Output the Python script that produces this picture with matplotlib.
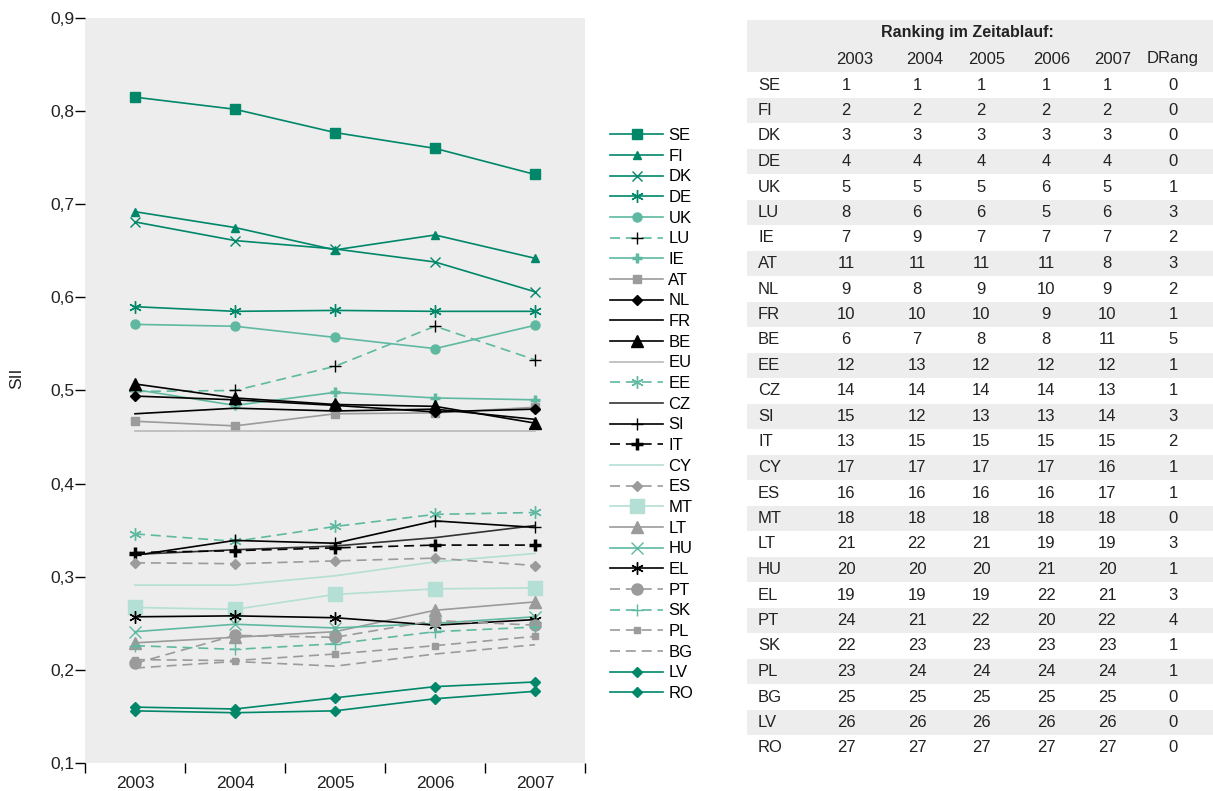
import numpy as np
import matplotlib.pyplot as plt
from matplotlib.patches import Rectangle

plt.rcParams['font.family'] = ['Liberation Sans', 'DejaVu Sans']

years = [2003, 2004, 2005, 2006, 2007]

# SII-Werte je Land
se = [0.815, 0.802, 0.777, 0.760, 0.732]
fi = [0.692, 0.675, 0.651, 0.667, 0.642]
dk = [0.681, 0.661, 0.652, 0.638, 0.606]
de = [0.590, 0.585, 0.586, 0.585, 0.585]
uk = [0.571, 0.569, 0.557, 0.545, 0.570]
lu = [0.499, 0.500, 0.526, 0.569, 0.533]
ie = [0.501, 0.484, 0.498, 0.492, 0.490]
at = [0.467, 0.462, 0.475, 0.476, 0.482]
nl = [0.494, 0.490, 0.484, 0.477, 0.480]
fr = [0.475, 0.481, 0.478, 0.480, 0.469]
be = [0.507, 0.492, 0.485, 0.483, 0.465]
eu = [0.456, 0.456, 0.456, 0.456, 0.456]
ee = [0.346, 0.338, 0.354, 0.367, 0.369]
cz = [0.324, 0.329, 0.333, 0.342, 0.355]
si = [0.323, 0.339, 0.336, 0.360, 0.353]
it = [0.326, 0.328, 0.331, 0.334, 0.334]
cy = [0.291, 0.291, 0.301, 0.316, 0.325]
es = [0.315, 0.314, 0.317, 0.320, 0.312]
mt = [0.267, 0.265, 0.281, 0.287, 0.288]
lt = [0.229, 0.235, 0.241, 0.264, 0.273]
hu = [0.241, 0.249, 0.245, 0.250, 0.257]
el = [0.257, 0.258, 0.256, 0.248, 0.254]
pt = [0.207, 0.237, 0.235, 0.253, 0.248]
sk = [0.226, 0.222, 0.228, 0.241, 0.246]
pl = [0.211, 0.210, 0.217, 0.226, 0.236]
bg = [0.202, 0.209, 0.204, 0.217, 0.227]
lv = [0.160, 0.158, 0.170, 0.182, 0.187]
ro = [0.156, 0.154, 0.156, 0.169, 0.177]

legend_labels = ['SE', 'FI', 'DK', 'DE', 'UK', 'LU', 'IE', 'AT', 'NL', 'FR', 'BE', 'EU', 'EE', 'CZ',
                 'SI', 'IT', 'CY', 'ES', 'MT', 'LT', 'HU', 'EL', 'PT', 'SK', 'PL', 'BG', 'LV', 'RO']
series = [se, fi, dk, de, uk, lu, ie, at, nl, fr, be, eu, ee, cz,
          si, it, cy, es, mt, lt, hu, el, pt, sk, pl, bg, lv, ro]

# Ranking-Tabelle
table_countries = ['SE', 'FI', 'DK', 'DE', 'UK', 'LU', 'IE', 'AT', 'NL', 'FR', 'BE', 'EE', 'CZ', 'SI',
                   'IT', 'CY', 'ES', 'MT', 'LT', 'HU', 'EL', 'PT', 'SK', 'PL', 'BG', 'LV', 'RO']
rank_2003 = [1, 2, 3, 4, 5, 8, 7, 11, 9, 10, 6, 12, 14, 15, 13, 17, 16, 18, 21, 20, 19, 24, 22, 23, 25, 26, 27]
rank_2004 = [1, 2, 3, 4, 5, 6, 9, 11, 8, 10, 7, 13, 14, 12, 15, 17, 16, 18, 22, 20, 19, 21, 23, 24, 25, 26, 27]
rank_2005 = [1, 2, 3, 4, 5, 6, 7, 11, 9, 10, 8, 12, 14, 13, 15, 17, 16, 18, 21, 20, 19, 22, 23, 24, 25, 26, 27]
rank_2006 = [1, 2, 3, 4, 6, 5, 7, 11, 10, 9, 8, 12, 14, 13, 15, 17, 16, 18, 19, 21, 22, 20, 23, 24, 25, 26, 27]
rank_2007 = [1, 2, 3, 4, 5, 6, 7, 8, 9, 10, 11, 12, 13, 14, 15, 16, 17, 18, 19, 20, 21, 22, 23, 24, 25, 26, 27]
drang = [0, 0, 0, 0, 1, 3, 2, 3, 2, 1, 5, 1, 1, 3, 2, 1, 1, 0, 3, 1, 3, 4, 1, 1, 0, 0, 0]

DG = '#00876a'   # dunkelgruen
MG = '#5fb9a1'   # mittelgruen
LG = '#b4dfd4'   # mint
GR = '#9b9b9b'   # grau
BK = '#000000'
DASH = (6, 3.5)
STAR = (6, 2, 0)

styles = [
    dict(color=DG, marker='s', ms=7),
    dict(color=DG, marker='^', ms=6),
    dict(color=DG, marker='x', ms=7, mew=1),
    dict(color=DG, marker=STAR, ms=9, mew=1),
    dict(color=MG, marker='o', ms=6.5),
    dict(color=MG, marker='+', ms=8, mew=1, mec=BK, dashes=DASH),
    dict(color=MG, marker='+', ms=7, mew=2.5),
    dict(color=GR, marker='s', ms=6),
    dict(color=BK, marker='D', ms=5.5),
    dict(color=BK),
    dict(color=BK, marker='^', ms=8),
    dict(color='#b9b9b9'),
    dict(color=MG, marker=STAR, ms=9, mew=1, dashes=DASH),
    dict(color='#333333'),
    dict(color=BK, marker='+', ms=9, mew=1),
    dict(color=BK, marker='+', ms=8, mew=2.5, dashes=DASH),
    dict(color=LG),
    dict(color=GR, marker='D', ms=5, dashes=DASH),
    dict(color=LG, marker='s', ms=10),
    dict(color=GR, marker='^', ms=8),
    dict(color=MG, marker='x', ms=8, mew=1),
    dict(color=BK, marker=STAR, ms=9, mew=1),
    dict(color=GR, marker='o', ms=8, dashes=DASH),
    dict(color=MG, marker='+', ms=9, mew=1, dashes=DASH),
    dict(color=GR, marker='s', ms=4.5, dashes=DASH),
    dict(color=GR, dashes=DASH),
    dict(color=DG, marker='D', ms=5),
    dict(color=DG, marker='D', ms=5),
]

W, H = 1213, 791
fig = plt.figure(figsize=(W / 100, H / 100), dpi=100)
ax = fig.add_axes([85 / W, 1 - 763 / H, 500 / W, 745 / H])
ax.set_facecolor('#ecedec')

x = np.arange(len(years))
for vals, lab, st in zip(series, legend_labels, styles):
    st = dict(st)
    if 'dashes' not in st:
        st['linestyle'] = '-'
    ax.plot(x, vals, label=lab, lw=1.2, **st)

for s in ax.spines.values():
    s.set_visible(False)

ax.set_xlim(-0.5, 4.5)
ax.set_ylim(0.1, 0.9)
ax.set_xticks(np.arange(-0.5, 5, 1))
ax.set_xticklabels([])
ax.set_xticks(x, minor=True)
ax.set_xticklabels([str(y) for y in years], minor=True)
ax.tick_params(axis='x', which='major', length=7, width=1, color=BK, direction='out')
ax.tick_params(axis='x', which='minor', length=0, pad=9, labelsize=12.5, labelcolor='#222222')
yt = np.round(np.arange(0.1, 0.91, 0.1), 1)
ax.set_yticks(yt)
ax.set_yticklabels([f'{v:.1f}'.replace('.', ',') for v in yt])
ax.tick_params(axis='y', length=7, width=1, color=BK, pad=0.5, labelsize=12.5, labelcolor='#222222')
fig.text(17 / W, 1 - 378 / H, 'SII', rotation=90, ha='center', va='center', fontsize=12.5, color='#222222')

ax.legend(loc='upper left', bbox_to_anchor=(610 / W, 1 - 128 / H), bbox_transform=fig.transFigure,
          frameon=False, fontsize=12, handlelength=3.2, handletextpad=0.3, labelspacing=0.34,
          borderpad=0, borderaxespad=0, numpoints=1)

# Tabelle rechts
band = '#ecedec'
fig.add_artist(Rectangle((747 / W, 1 - 72 / H), (W - 747) / W, 52 / H, transform=fig.transFigure,
                         facecolor=band, edgecolor='none', zorder=0))
fig.text(967 / W, 1 - 33 / H, 'Ranking im Zeitablauf:', ha='center', va='center', fontsize=11.5,
         fontweight='bold', family=['Liberation Sans Narrow', 'Liberation Sans'], color='#222222')
head_x = [855, 925, 987, 1052, 1113, 1173]
num_x = [846, 917, 981, 1046, 1107, 1173]
for hx, h in zip(head_x, ['2003', '2004', '2005', '2006', '2007', 'DRang']):
    fig.text(hx / W, 1 - 59 / H, h, ha='center', va='center', fontsize=12, color='#222222')

row_h = 25.5
columns = [rank_2003, rank_2004, rank_2005, rank_2006, rank_2007, drang]
for i, c in enumerate(table_countries):
    yc = 85 + i * row_h
    if i % 2 == 1:
        fig.add_artist(Rectangle((747 / W, 1 - (yc + row_h / 2) / H), (W - 747) / W, row_h / H,
                                 transform=fig.transFigure, facecolor=band, edgecolor='none', zorder=0))
    fig.text(758 / W, 1 - yc / H, c, ha='left', va='center', fontsize=12, color='#222222')
    for nx, col in zip(num_x, columns):
        fig.text(nx / W, 1 - yc / H, str(col[i]), ha='center', va='center', fontsize=12, color='#222222')

fig.savefig('out.png', dpi=100)
